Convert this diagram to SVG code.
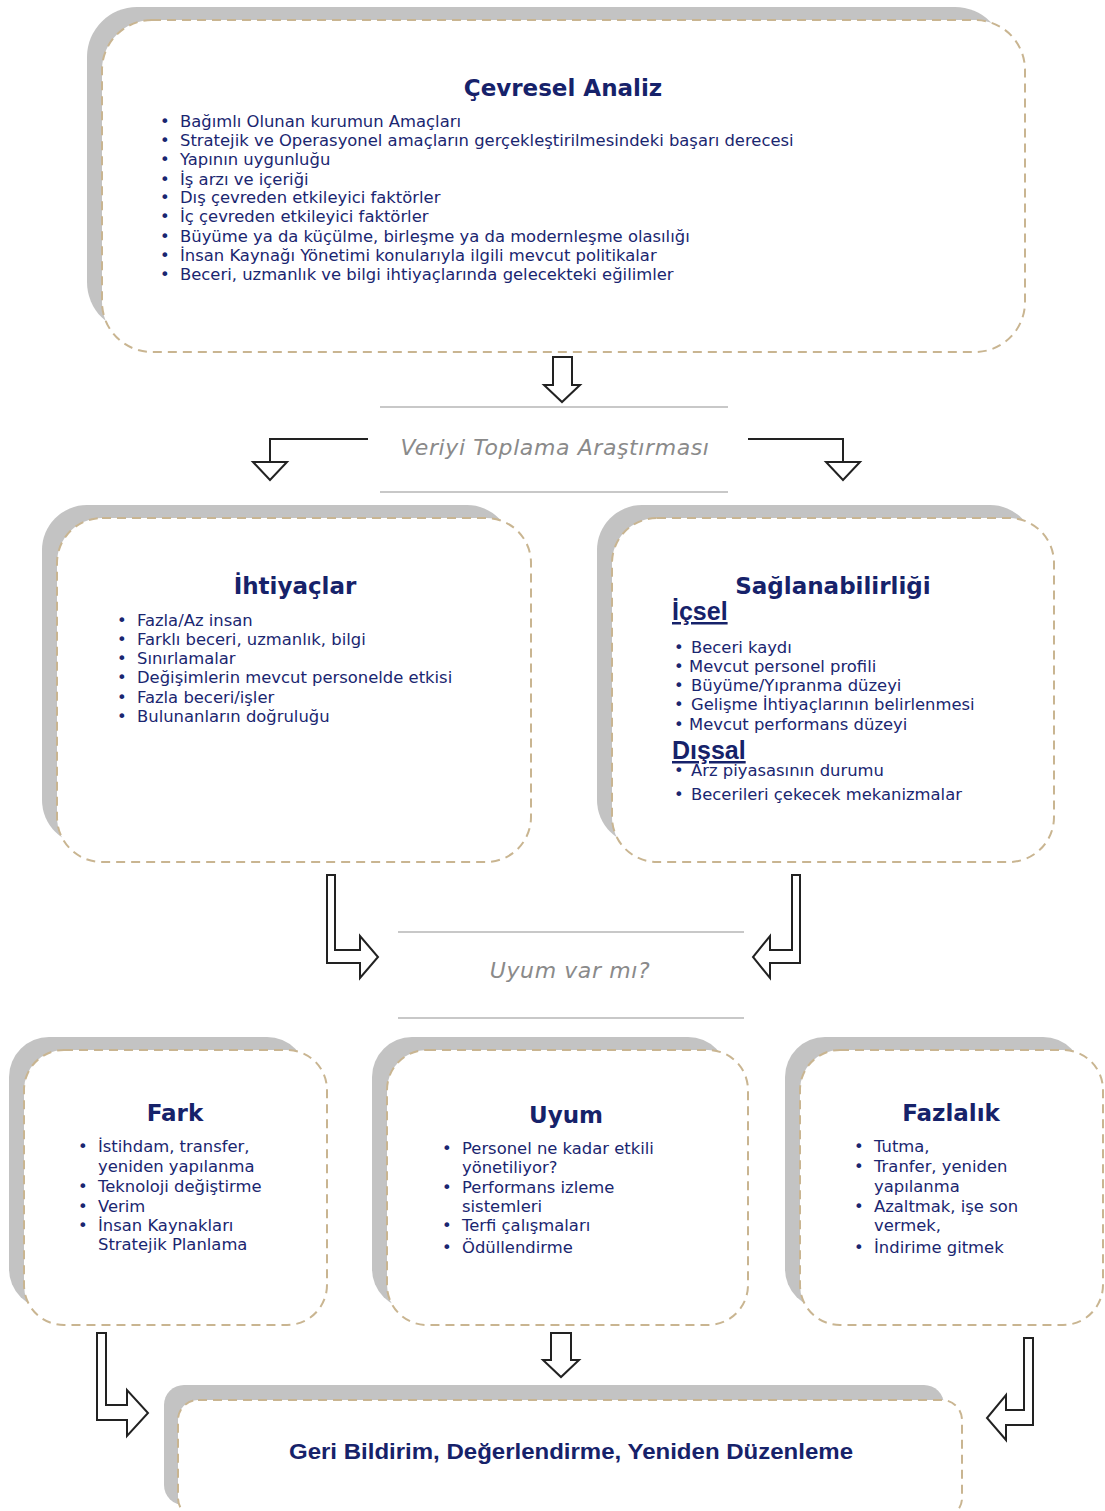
<svg xmlns="http://www.w3.org/2000/svg" width="1105" height="1511" viewBox="0 0 1105 1511">
<style>
.shadow{fill:#c3c3c3}
.box{fill:#ffffff;stroke:#c9b591;stroke-width:2;stroke-dasharray:9 6}
.title{font-family:"DejaVu Sans","Liberation Sans",Arial,sans-serif;font-weight:bold;font-size:23px;fill:#16226a;text-anchor:middle}
.t{font-family:"DejaVu Sans","Liberation Sans",Arial,sans-serif;font-size:16.4px;fill:#1a2670}
.sub{font-family:"Liberation Sans",Arial,sans-serif;font-weight:bold;font-size:25px;fill:#16226a;text-decoration:underline}
.cap{font-family:"DejaVu Sans","Liberation Sans",Arial,sans-serif;font-style:italic;font-size:22px;fill:#8a8a8a;text-anchor:middle;letter-spacing:0.6px}
.rule{stroke:#c8c8c8;stroke-width:2}
.arr{fill:#ffffff;stroke:#222222;stroke-width:2;stroke-linejoin:miter}
.ln{fill:none;stroke:#222222;stroke-width:2}
</style>

<g id="cevresel-analiz">
<rect class="shadow" x="87" y="7" width="918" height="325" rx="50"/>
<rect class="box" x="102" y="20" width="923" height="332" rx="50"/>
<text class="title" x="563" y="96">Çevresel Analiz</text>
<g class="t">
<text x="160" y="127">•</text><text x="180" y="127">Bağımlı Olunan kurumun Amaçları</text>
<text x="160" y="146">•</text><text x="180" y="146">Stratejik ve Operasyonel amaçların gerçekleştirilmesindeki başarı derecesi</text>
<text x="160" y="165">•</text><text x="180" y="165">Yapının uygunluğu</text>
<text x="160" y="185">•</text><text x="180" y="185">İş arzı ve içeriği</text>
<text x="160" y="203">•</text><text x="180" y="203">Dış çevreden etkileyici faktörler</text>
<text x="160" y="222">•</text><text x="180" y="222">İç çevreden etkileyici faktörler</text>
<text x="160" y="242">•</text><text x="180" y="242">Büyüme ya da küçülme, birleşme ya da modernleşme olasılığı</text>
<text x="160" y="261">•</text><text x="180" y="261">İnsan Kaynağı Yönetimi konularıyla ilgili mevcut politikalar</text>
<text x="160" y="280">•</text><text x="180" y="280">Beceri, uzmanlık ve bilgi ihtiyaçlarında gelecekteki eğilimler</text>
</g>
</g>

<g id="veriyi-toplama">
<line class="rule" x1="380" y1="407" x2="728" y2="407"/>
<line class="rule" x1="380" y1="492" x2="728" y2="492"/>
<text class="cap" x="555" y="455">Veriyi Toplama Araştırması</text>
</g>

<g id="ihtiyaclar">
<rect class="shadow" x="42" y="505" width="470" height="340" rx="45"/>
<rect class="box" x="57" y="518" width="474" height="344" rx="45"/>
<text class="title" x="295" y="594">İhtiyaçlar</text>
<g class="t">
<text x="117" y="626">•</text><text x="137" y="626">Fazla/Az insan</text>
<text x="117" y="645">•</text><text x="137" y="645">Farklı beceri, uzmanlık, bilgi</text>
<text x="117" y="664">•</text><text x="137" y="664">Sınırlamalar</text>
<text x="117" y="683">•</text><text x="137" y="683">Değişimlerin mevcut personelde etkisi</text>
<text x="117" y="703">•</text><text x="137" y="703">Fazla beceri/işler</text>
<text x="117" y="722">•</text><text x="137" y="722">Bulunanların doğruluğu</text>
</g>
</g>

<g id="saglanabilirligi">
<rect class="shadow" x="597" y="505" width="438" height="340" rx="45"/>
<rect class="box" x="612" y="518" width="442" height="344" rx="45"/>
<text class="title" x="833" y="594">Sağlanabilirliği</text>
<text class="sub" x="672" y="620">İçsel</text>
<g class="t">
<text x="674" y="653">•</text><text x="691" y="653">Beceri kaydı</text>
<text x="674" y="672">•</text><text x="689" y="672">Mevcut personel profili</text>
<text x="674" y="691">•</text><text x="691" y="691">Büyüme/Yıpranma düzeyi</text>
<text x="674" y="710">•</text><text x="691" y="710">Gelişme İhtiyaçlarının belirlenmesi</text>
<text x="674" y="730">•</text><text x="689" y="730">Mevcut performans düzeyi</text>
</g>
<text class="sub" x="672" y="759">Dışsal</text>
<g class="t">
<text x="674" y="776">•</text><text x="691" y="776">Arz piyasasının durumu</text>
<text x="674" y="800">•</text><text x="691" y="800">Becerileri çekecek mekanizmalar</text>
</g>
</g>

<g id="uyum-var-mi">
<line class="rule" x1="398" y1="932" x2="744" y2="932"/>
<line class="rule" x1="398" y1="1018" x2="744" y2="1018"/>
<text class="cap" x="570" y="978">Uyum var mı?</text>
</g>

<g id="fark">
<rect class="shadow" x="9" y="1037" width="298" height="272" rx="40"/>
<rect class="box" x="24" y="1050" width="303" height="275" rx="40"/>
<text class="title" x="175" y="1121">Fark</text>
<g class="t">
<text x="78" y="1152">•</text><text x="98" y="1152">İstihdam, transfer,</text>
<text x="98" y="1172">yeniden yapılanma</text>
<text x="78" y="1192">•</text><text x="98" y="1192">Teknoloji değiştirme</text>
<text x="78" y="1212">•</text><text x="98" y="1212">Verim</text>
<text x="78" y="1231">•</text><text x="98" y="1231">İnsan Kaynakları</text>
<text x="98" y="1250">Stratejik Planlama</text>
</g>
</g>

<g id="uyum">
<rect class="shadow" x="372" y="1037" width="356" height="272" rx="40"/>
<rect class="box" x="387" y="1050" width="361" height="275" rx="40"/>
<text class="title" x="566" y="1123">Uyum</text>
<g class="t">
<text x="442" y="1154">•</text><text x="462" y="1154">Personel ne kadar etkili</text>
<text x="462" y="1173">yönetiliyor?</text>
<text x="442" y="1193">•</text><text x="462" y="1193">Performans izleme</text>
<text x="462" y="1212">sistemleri</text>
<text x="442" y="1231">•</text><text x="462" y="1231">Terfi çalışmaları</text>
<text x="442" y="1253">•</text><text x="462" y="1253">Ödüllendirme</text>
</g>
</g>

<g id="fazlalik">
<rect class="shadow" x="785" y="1037" width="298" height="272" rx="40"/>
<rect class="box" x="800" y="1050" width="303" height="275" rx="40"/>
<text class="title" x="951" y="1121">Fazlalık</text>
<g class="t">
<text x="854" y="1152">•</text><text x="874" y="1152">Tutma,</text>
<text x="854" y="1172">•</text><text x="874" y="1172">Tranfer, yeniden</text>
<text x="874" y="1192">yapılanma</text>
<text x="854" y="1212">•</text><text x="874" y="1212">Azaltmak, işe son</text>
<text x="874" y="1231">vermek,</text>
<text x="854" y="1253">•</text><text x="874" y="1253">İndirime gitmek</text>
</g>
</g>

<g id="geri-bildirim">
<rect class="shadow" x="164" y="1385" width="780" height="120" rx="20"/>
<rect class="box" x="178" y="1400" width="784" height="118" rx="20"/>
<text class="title" x="571" y="1459" style="font-family:'Liberation Sans',Arial,sans-serif;font-size:22px" textLength="564" lengthAdjust="spacingAndGlyphs">Geri Bildirim, Değerlendirme, Yeniden Düzenleme</text>
</g>

<g id="connectors">
<polygon class="arr" points="553,357 572,357 572,385 580,385 562,402 544,385 553,385"/>
<polyline class="ln" points="368,439 270,439 270,462"/>
<polygon class="arr" points="253,462 287,462 270,480"/>
<polyline class="ln" points="748,439 843,439 843,462"/>
<polygon class="arr" points="826,462 860,462 843,480"/>
<polygon class="arr" points="327,875 335,875 335,950 360,950 360,936 378,957 360,978 360,963 327,963"/>
<polygon class="arr" points="800,875 792,875 792,950 770,950 770,936 753,957 770,978 770,963 800,963"/>
<polygon class="arr" points="97,1333 106,1333 106,1405 127,1405 127,1390 148,1413 127,1436 127,1420 97,1420"/>
<polygon class="arr" points="551,1333 571,1333 571,1360 579,1360 561,1377 543,1360 551,1360"/>
<polygon class="arr" points="1033,1338 1024,1338 1024,1410 1006,1410 1006,1395 987,1418 1006,1440 1006,1425 1033,1425"/>
</g>
</svg>
